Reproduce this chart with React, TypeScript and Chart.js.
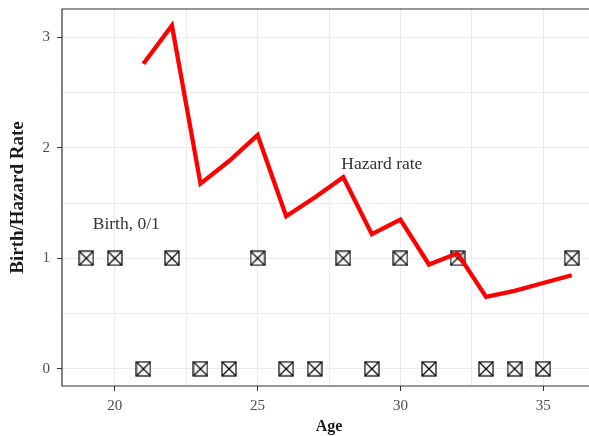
import React, { useEffect, useRef } from "react";
import { Chart, registerables } from "chart.js";

Chart.register(...registerables);

const ages = [19, 20, 21, 22, 23, 24, 25, 26, 27, 28, 29, 30, 31, 32, 33, 34, 35, 36];
const births = [1, 1, 0, 1, 0, 0, 1, 0, 0, 1, 0, 1, 0, 1, 0, 0, 0, 1];
const hazardAges = [21, 22, 23, 24, 25, 26, 27, 28, 29, 30, 31, 32, 33, 34, 35, 36];
const hazard = [2.76, 3.105, 1.675, 1.88, 2.115, 1.38, 1.55, 1.733, 1.218, 1.35, 0.944, 1.045, 0.651, 0.705, 0.777, 0.847];
const xTicks = [20, 25, 30, 35];
const xMinor = [22.5, 27.5, 32.5];
const yTicks = [0, 1, 2, 3];
const yMinor = [0.5, 1.5, 2.5];
const labels = [
  { text: "Birth, 0/1", x: 20.4, y: 1.31 },
  { text: "Hazard rate", x: 29.35, y: 1.853 },
];

const FONT = "'Liberation Serif', 'Times New Roman', serif";

function makeMarker(): HTMLCanvasElement {
  const c = document.createElement("canvas");
  const s = 16;
  c.width = s;
  c.height = s;
  const ctx = c.getContext("2d")!;
  ctx.strokeStyle = "#000";
  ctx.lineWidth = 1.2;
  ctx.strokeRect(1, 1, s - 2, s - 2);
  ctx.beginPath();
  ctx.moveTo(1, 1);
  ctx.lineTo(s - 1, s - 1);
  ctx.moveTo(s - 1, 1);
  ctx.lineTo(1, s - 1);
  ctx.stroke();
  return c;
}

const frame = {
  id: "frame",
  afterDatasetsDraw(chart: any) {
    const { ctx, chartArea, scales } = chart;
    ctx.save();
    ctx.font = `17.5px ${FONT}`;
    ctx.fillStyle = "#333333";
    ctx.textAlign = "center";
    ctx.textBaseline = "middle";
    for (const l of labels) {
      ctx.fillText(l.text, scales.x.getPixelForValue(l.x), scales.y.getPixelForValue(l.y));
    }
    ctx.strokeStyle = "#333333";
    ctx.lineWidth = 1.2;
    ctx.beginPath();
    ctx.moveTo(chartArea.right + 5, chartArea.top);
    ctx.lineTo(chartArea.left, chartArea.top);
    ctx.lineTo(chartArea.left, chartArea.bottom);
    ctx.lineTo(chartArea.right + 5, chartArea.bottom);
    ctx.stroke();
    ctx.restore();
  },
};

export default function App() {
  const ref = useRef<HTMLCanvasElement>(null);
  useEffect(() => {
    const marker = makeMarker();
    const chart = new Chart(ref.current!, {
      type: "scatter",
      data: {
        datasets: [
          {
            type: "line",
            data: hazardAges.map((a, i) => ({ x: a, y: hazard[i] })),
            borderColor: "#ff0000",
            borderWidth: 4.3,
            pointRadius: 0,
            fill: false,
            tension: 0,
          },
          {
            data: ages.map((a, i) => ({ x: a, y: births[i] })),
            pointStyle: marker as any,
            pointRadius: 8,
          },
        ],
      },
      plugins: [frame],
      options: {
        animation: false,
        responsive: false,
        events: [],
        layout: { padding: { top: 7, right: 14, left: 0, bottom: 0 } },
        plugins: { legend: { display: false }, tooltip: { enabled: false } },
        scales: {
          x: {
            type: "linear",
            min: 18.15,
            max: 36.85,
            afterBuildTicks: (s: any) => {
              s.ticks = [...xTicks, ...xMinor].sort((a, b) => a - b).map((v) => ({ value: v }));
            },
            afterFit: (s: any) => {
              s.height = 50;
              s.paddingLeft = 0;
              s.paddingRight = 0;
            },
            grid: {
              color: "#ebebeb",
              lineWidth: 1,
              tickLength: 5,
              tickColor: (c: any) => (xTicks.includes(c.tick?.value) ? "#333333" : "rgba(0,0,0,0)"),
              drawOnChartArea: true,
            },
            border: { display: false },
            ticks: {
              autoSkip: false,
              maxRotation: 0,
              padding: 6,
              color: "#4d4d4d",
              font: { family: FONT, size: 15 },
              callback: (v: any) => (xTicks.includes(v) ? String(v) : ""),
            },
            title: {
              display: true,
              text: "Age",
              color: "#1a1a1a",
              padding: { top: 0, bottom: 0 },
              font: { family: FONT, size: 16, weight: "bold" },
            },
          },
          y: {
            type: "linear",
            min: -0.155,
            max: 3.255,
            afterBuildTicks: (s: any) => {
              s.ticks = [...yTicks, ...yMinor].sort((a, b) => a - b).map((v) => ({ value: v }));
            },
            afterFit: (s: any) => {
              s.width = 62;
              s.paddingTop = 0;
              s.paddingBottom = 0;
            },
            grid: {
              color: "#ebebeb",
              lineWidth: 1,
              tickLength: 5,
              tickColor: (c: any) => (yTicks.includes(c.tick?.value) ? "#333333" : "rgba(0,0,0,0)"),
            },
            border: { display: false },
            ticks: {
              autoSkip: false,
              padding: 7,
              color: "#4d4d4d",
              font: { family: FONT, size: 15 },
              callback: (v: any) => (yTicks.includes(v) ? String(v) : ""),
            },
            title: {
              display: true,
              text: "Birth/Hazard Rate",
              color: "#1a1a1a",
              padding: { top: 7, bottom: 6 },
              font: { family: FONT, size: 19, weight: "bold" },
            },
          },
        },
      },
    } as any);
    return () => chart.destroy();
  }, []);
  return (
    <div style={{ position: "fixed", left: 0, top: 0, width: 589, height: 436, overflow: "hidden", background: "#fff" }}>
      <canvas ref={ref} width={610} height={436} style={{ display: "block" }} />
    </div>
  );
}
